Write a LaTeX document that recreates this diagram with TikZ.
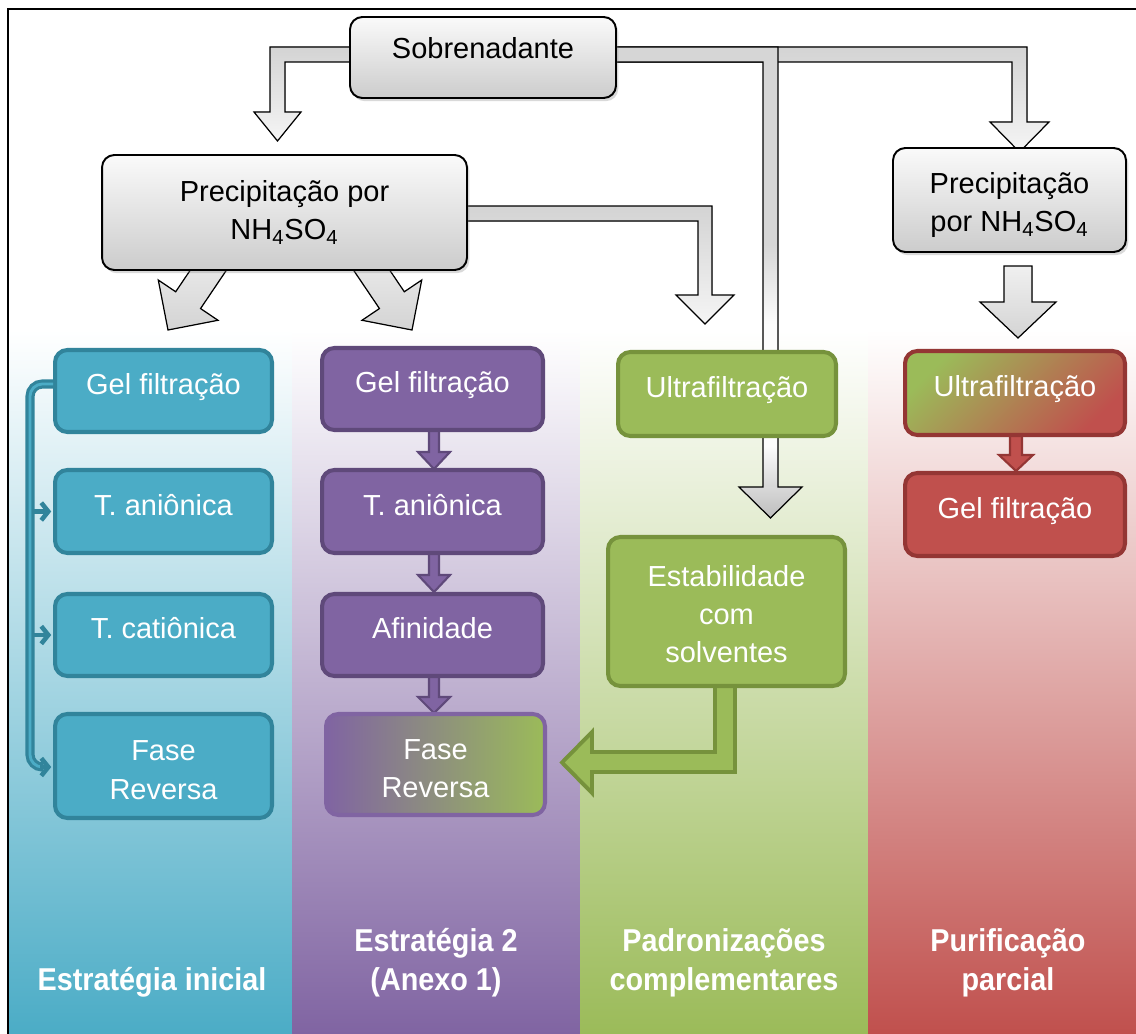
\documentclass[tikz,border=0pt]{standalone}
\usepackage{fontspec}
\setmainfont{Liberation Sans}
\newfontfamily\boxfont{Liberation Sans}
\newfontfamily\labfont[FakeStretch=0.91]{Liberation Sans Bold}
\usetikzlibrary{shadows,calc,arrows.meta}
\definecolor{tealc}{HTML}{4BACC6}
\definecolor{tealdark}{HTML}{31849B}
\definecolor{purp}{HTML}{8064A2}
\definecolor{purpdark}{HTML}{5F497A}
\definecolor{grn}{HTML}{9BBB59}
\definecolor{grndark}{HTML}{76923C}
\definecolor{rd}{HTML}{C0504D}
\definecolor{rddark}{HTML}{943634}
\newcommand\topst[1]{\rule{0pt}{#1}}
\newcommand\botst{\rule[-4pt]{0pt}{4pt}}
\tikzset{
  box/.style={rounded corners=7pt, inner sep=0pt, align=center,
    font=\boxfont\fontsize{16.5}{21.7}\selectfont},
  oneline/.style={text height=15.7pt, text depth=11.7pt},
  graybox/.style={box, draw=black, line width=1.1pt, top color=gray!4, bottom color=gray!40,
    drop shadow={shadow xshift=1.3pt, shadow yshift=-1.8pt, opacity=0.3}, text=black},
  bluebox/.style={box, draw=tealdark, fill=tealc, line width=2.3pt, text=white},
  purpbox/.style={box, draw=purpdark, fill=purp, line width=2.3pt, text=white},
  grnbox/.style={box, draw=grndark, fill=grn, line width=2.3pt, text=white},
  rdbox/.style={box, draw=rddark, fill=rd, line width=2.3pt, text=white},
  arrowline/.style={draw=black, line width=0.7pt},
  grayarrow/.style={arrowline, top color=gray!34, bottom color=gray!8},
  grayarrowb/.style={arrowline, top color=gray!12, bottom color=gray!34},
  purparrow/.style={draw=purpdark, fill=purp, line width=1.2pt},
  rdarrow/.style={draw=rddark, fill=rd, line width=1.2pt},
  grnarrow/.style={draw=grndark, fill=grn, line width=2.2pt},
  bus/.style={draw=tealdark, line width=1.8pt, double=tealc, double distance=1.6pt, rounded corners=7pt},
  busarrow/.style={draw=tealdark, line width=2.6pt, -{Straight Barb[length=4pt,width=10pt]}, shorten >=1pt},
  lab/.style={text=white, align=center, font=\labfont\fontsize{18}{22.2}\selectfont}
}
\begin{document}
\begin{tikzpicture}[x=0.02cm,y=-0.02cm]
\useasboundingbox (0,0) rectangle (1136,1034);
% background columns
\fill[top color=white, bottom color=tealc] (8,330) rectangle (292,1034);
\fill[top color=white, bottom color=purp] (292,330) rectangle (580,1034);
\fill[top color=white, bottom color=grn] (580,330) rectangle (868,1034);
\fill[top color=white, bottom color=rd] (868,330) rectangle (1136,1034);

% gray block arrows
\filldraw[grayarrow] (600,47) -- (1027,47) -- (1027,122) -- (1049,122) -- (1019.5,152) -- (990,122) -- (1012,122) -- (1012,62) -- (600,62) -- cycle;
% long arrow into the green column, fading where it passes the box
\fill[gray!32] (600,47) -- (778,47) -- (778,487) -- (763,487) -- (763,62) -- (600,62) -- cycle;
\fill[top color=gray!32, bottom color=gray!2] (763,245) rectangle (778,325);
\fill[gray!2] (763,325) rectangle (778,445);
\fill[top color=gray!2, bottom color=gray!32] (763,445) rectangle (778,487.5);
\fill[top color=gray!30, bottom color=gray!52] (778,487) -- (802,487) -- (770.5,518) -- (739,487) -- (763,487) -- cycle;
\draw[arrowline] (600,47) -- (778,47) -- (778,487) -- (802,487) -- (770.5,518) -- (739,487) -- (763,487) -- (763,62) -- (600,62);
\filldraw[grayarrow] (360,47) -- (270,47) -- (270,112) -- (254,112) -- (277.5,141) -- (301,112) -- (285,112) -- (285,62) -- (360,62) -- cycle;
\filldraw[grayarrow] (450,206) -- (712,206) -- (712,295) -- (734,295) -- (705,324) -- (676,295) -- (698,295) -- (698,221) -- (450,221) -- cycle;
\filldraw[grayarrowb] (1004,266) -- (1032,266) -- (1032,302) -- (1056,302) -- (1018,338) -- (980,302) -- (1004,302) -- cycle;
\begin{scope}[shift={(168,330)}, rotate=-34]
\filldraw[grayarrowb] (-15,-95) -- (15,-95) -- (15,-36) -- (36,-36) -- (0,0) -- (-36,-36) -- (-15,-36) -- cycle;
\end{scope}
\begin{scope}[shift={(412,330)}, rotate=34]
\filldraw[grayarrowb] (-15,-95) -- (15,-95) -- (15,-36) -- (36,-36) -- (0,0) -- (-36,-36) -- (-15,-36) -- cycle;
\end{scope}

% gray boxes
\node[graybox, minimum width=5.32cm, minimum height=1.62cm, text height=15.7pt, text depth=14.7pt] (sob) at (483,57.5) {Sobrenadante};
\node[graybox, minimum width=7.3cm, minimum height=2.3cm] (prec1) at (284.5,212.5) {Precipitação por\\NH\textsubscript{4}SO\textsubscript{4}};
\node[graybox, minimum width=4.66cm, minimum height=2.08cm] (prec2) at (1009.5,200) {\topst{18.7pt}Precipitação\\por NH\textsubscript{4}SO\textsubscript{4}\botst};

% small colored arrows
\filldraw[purparrow] (429,428) -- (439,428) -- (439,452) -- (450,452) -- (434,469) -- (418,452) -- (429,452) -- cycle;
\filldraw[purparrow] (429,551) -- (439,551) -- (439,575) -- (450,575) -- (434,592) -- (418,575) -- (429,575) -- cycle;
\filldraw[purparrow] (429,674) -- (439,674) -- (439,697) -- (450,697) -- (434,713) -- (418,697) -- (429,697) -- cycle;
\filldraw[rdarrow] (1010,433) -- (1022,433) -- (1022,455) -- (1033,455) -- (1016,471) -- (999,455) -- (1010,455) -- cycle;
\filldraw[grnarrow] (715,680) -- (735,680) -- (735,772) -- (592,772) -- (592,793) -- (562,762.5) -- (592,732) -- (592,752) -- (715,752) -- cycle;

% blue column
\node[bluebox, oneline, minimum width=4.34cm, minimum height=1.64cm] (b1) at (163.5,391) {Gel filtração};
\node[bluebox, oneline, minimum width=4.34cm, minimum height=1.66cm] (b2) at (163.5,511.5) {T. aniônica};
\node[bluebox, oneline, minimum width=4.34cm, minimum height=1.64cm] (b3) at (163.5,635) {T. catiônica};
\node[bluebox, minimum width=4.34cm, minimum height=2.08cm] (b4) at (163.5,766) {\topst{19.9pt}Fase\\Reversa\botst};

% purple column
\node[purpbox, oneline, minimum width=4.42cm, minimum height=1.64cm] (p1) at (432.5,389) {Gel filtração};
\node[purpbox, oneline, minimum width=4.42cm, minimum height=1.66cm] (p2) at (432.5,511.5) {T. aniônica};
\node[purpbox, oneline, minimum width=4.42cm, minimum height=1.64cm] (p3) at (432.5,635) {Afinidade};
\node[box, draw=purp, line width=2.3pt, left color=purp, right color=grn, text=white, minimum width=4.38cm, minimum height=2.02cm] (p4) at (435.5,764.5) {\topst{19.9pt}Fase\\Reversa\botst};

% green column
\node[grnbox, oneline, minimum width=4.36cm, minimum height=1.68cm] (g1) at (727,394) {Ultrafiltração};
\node[grnbox, minimum width=4.74cm, minimum height=2.98cm] (g2) at (726.5,611.5) {\topst{18.7pt}Estabilidade\\com\\solventes\botst};

% red column
\node[box, draw=rddark, line width=2.3pt, top color=grn, bottom color=rd, shading angle=45, text=white, oneline, minimum width=4.4cm, minimum height=1.68cm] (r1) at (1015,393) {Ultrafiltração};
\node[rdbox, oneline, minimum width=4.4cm, minimum height=1.66cm] (r2) at (1015,514.5) {Gel filtração};

% blue bracket connector
\coordinate (busTop) at (30,384);
\coordinate (busBot) at (30,767);
\draw[bus] ($(b1.west)+(0,-7)$) -- (busTop) -- (busBot) -- ($(b4.west)+(-10,1)$);
\draw[busarrow] (33,511.5) -- (b2.west);
\draw[busarrow] (33,635) -- (b3.west);
\draw[busarrow] (40,767) -- ($(b4.west)+(0,1)$);

% bottom labels
\node[lab] (l1) at (152,982) {Estratégia inicial};
\node[lab] (l2) at (436,962.5) {Estratégia 2\\(Anexo 1)};
\node[lab] (l3) at (724,962.5) {Padronizações\\complementares};
\node[lab] (l4) at (1008,962.5) {Purificação\\parcial};

% frame
\draw[line width=1.1pt] (8,1034) -- (8,9) -- (1136,9);
\end{tikzpicture}
\end{document}
